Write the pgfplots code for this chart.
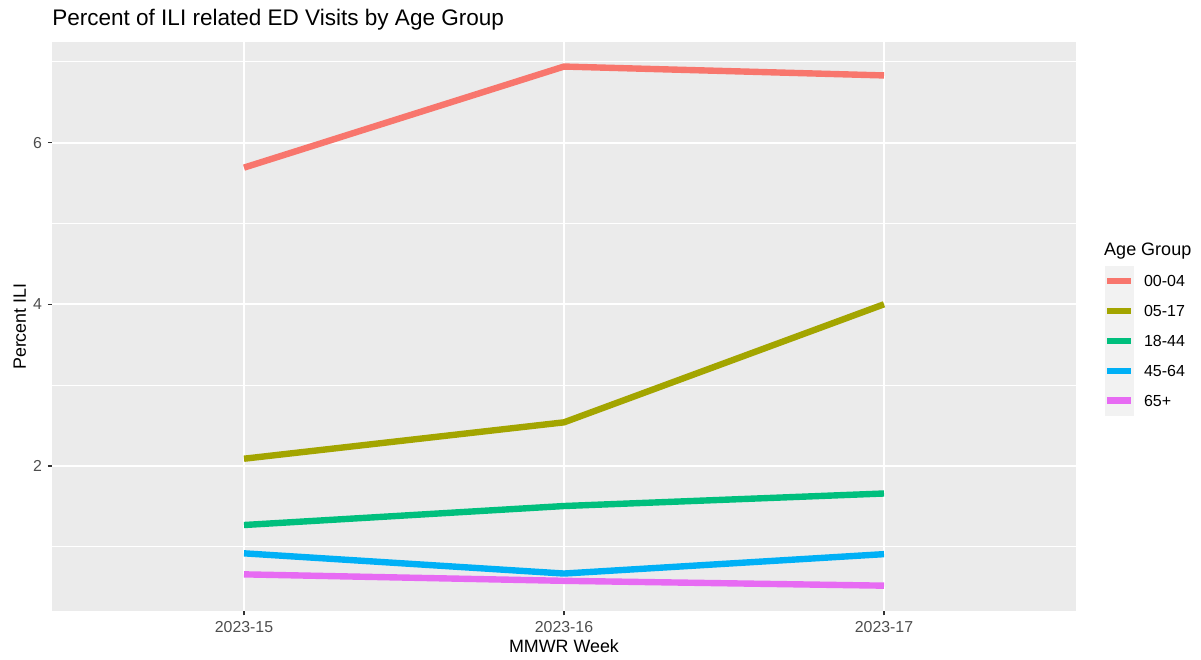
\documentclass[border=0pt]{standalone}
\usepackage{fontspec}
\setmainfont{Liberation Sans}
\usepackage{pgfplots}
\pgfplotsset{compat=1.18}
\definecolor{cA}{HTML}{F8766D}
\definecolor{cB}{HTML}{A3A500}
\definecolor{cC}{HTML}{00BF7D}
\definecolor{cD}{HTML}{00B0F6}
\definecolor{cE}{HTML}{E76BF3}
\definecolor{panel}{HTML}{EBEBEB}
\definecolor{keybg}{HTML}{F2F2F2}
\definecolor{gtwenty}{HTML}{333333}
\definecolor{gthirty}{HTML}{4D4D4D}
\begin{document}
\begin{tikzpicture}
\useasboundingbox (-39pt,-35.78pt) rectangle (861.75pt,458.48pt);
\begin{axis}[
  scale only axis,
  width=768pt, height=427pt,
  xmin=-0.6, xmax=2.6,
  ymin=0.203, ymax=7.244,
  xtick={0,1,2},
  xticklabels={2023-15,2023-16,2023-17},
  ytick={2,4,6},
  minor ytick={1,3,5,7},
  grid=both,
  major grid style={white, line width=1.5pt},
  minor grid style={white, line width=0.75pt},
  minor tick length=0pt,
  major tick length=3pt,
  tick align=outside,
  tick pos=left,
  tick style={gtwenty, line width=0.8pt},
  axis line style={draw=none},
  axis background/.style={fill=panel},
  /pgf/number format/assume math mode=true,
  ticklabel style={font=\fontsize{11.9}{13}\selectfont, text=gthirty},
  xticklabel style={anchor=north, yshift=-1pt},
  yticklabel style={anchor=east, xshift=-1pt},
  xlabel={MMWR Week},
  ylabel={Percent ILI},
  label style={font=\fontsize{13.4}{15}\selectfont},
  xlabel style={at={(axis description cs:0.5,-0.0724)}, anchor=base},
  ylabel style={at={(axis description cs:-0.0254,0.5)}, anchor=base},
  clip=false,
  legend style={
    at={(axis description cs:1.0273,0.6065)}, anchor=north west,
    draw=none, fill=none, inner sep=0pt,
    cells={anchor=west},
    nodes={inner sep=0pt, text depth=0pt},
    font=\fontsize{12}{13}\selectfont,
    row sep=0pt
  },
  legend image code/.code={
    \fill[keybg, draw=none] (0pt,-11.2pt) rectangle (22pt,11.2pt);
    \draw[#1, line width=4.8pt, line cap=butt] (2pt,0pt) -- (20pt,0pt);
    \path[draw=none, fill=none] (0pt,-11.2pt) rectangle (29.5pt,11.2pt);
  },
  every axis plot/.append style={line width=4.8pt, line join=round, line cap=butt},
]
\addplot[cA] coordinates {(0,5.69) (1,6.94) (2,6.83)};
\addlegendentry{00-04}
\addplot[cB] coordinates {(0,2.09) (1,2.54) (2,4.00)};
\addlegendentry{05-17}
\addplot[cC] coordinates {(0,1.27) (1,1.505) (2,1.66)};
\addlegendentry{18-44}
\addplot[cD] coordinates {(0,0.92) (1,0.67) (2,0.91)};
\addlegendentry{45-64}
\addplot[cE] coordinates {(0,0.66) (1,0.58) (2,0.52)};
\addlegendentry{65+}
\node[anchor=base west, inner sep=0pt, font=\fontsize{16.9}{19}\selectfont] at (axis description cs:0,1.0281) {Percent of ILI related ED Visits by Age Group};
\node[anchor=base west, inner sep=0pt, font=\fontsize{13.5}{15}\selectfont] at (axis description cs:1.0273,0.6241) {Age Group};
\end{axis}
\end{tikzpicture}
\end{document}
